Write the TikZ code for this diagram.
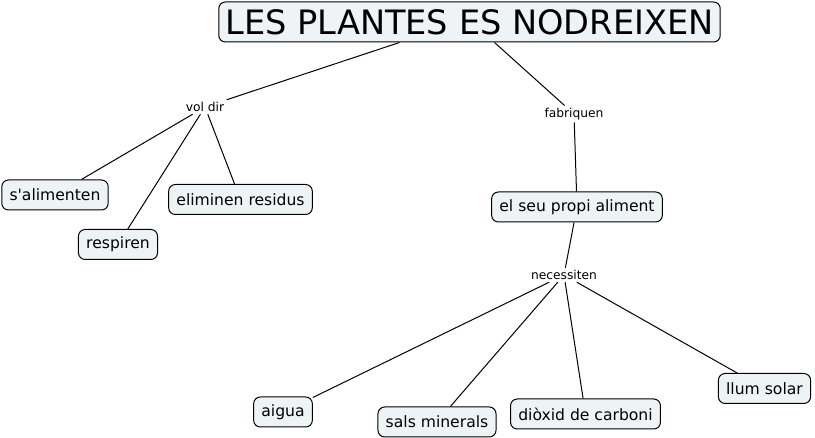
\documentclass[tikz,border=0pt]{standalone}
\usepackage{fontspec}
\setmainfont{DejaVu Sans}[Ligatures=TeXOff]
\usetikzlibrary{positioning}
\definecolor{boxfill}{RGB}{238,244,246}

\begin{document}
\begin{tikzpicture}[x=0.75pt,y=-0.75pt,line width=0.75pt,
  concept/.style={draw=black,rounded corners=5pt,fill=boxfill,font=\fontsize{11.7}{13}\selectfont,inner xsep=5.8pt,minimum height=22.5pt},
  linkword/.style={font=\fontsize{9.2}{10}\selectfont,inner sep=1.5pt,fill=white}]
\useasboundingbox (0,0) rectangle (815,438);
\node[concept,font=\fontsize{25.2}{30}\selectfont,minimum height=30pt,inner xsep=5pt] (title) at (469.5,22) {LES PLANTES ES NODREIXEN};
\node[linkword] (voldir) at (205,107) {vol dir};
\node[linkword] (fabriquen) at (574,114) {fabriquen};
\node[concept] (salimenten) at (55,195) {s'alimenten};
\node[concept] (respiren) at (118,244.5) {respiren};
\node[concept] (eliminen) at (240.5,199.5) {eliminen residus};
\node[concept] (aliment) at (577,207) {el seu propi aliment};
\node[linkword] (necessiten) at (564,275) {necessiten};
\node[concept] (aigua) at (283,412) {aigua};
\node[concept] (sals) at (437,422) {sals minerals};
\node[concept] (dioxid) at (585.5,414) {diòxid de carboni};
\node[concept] (llum) at (764.5,388.5) {llum solar};
\draw (title.south) ++(-70,0) coordinate (t1);
\draw (title.south) ++(25,0) coordinate (t2);
\draw (t1) -- (voldir.north east);
\draw (t2) -- (fabriquen);
\draw (voldir) -- (salimenten);
\draw (voldir) -- (respiren);
\draw (voldir) -- (eliminen);
\draw (fabriquen) -- (aliment);
\draw (aliment) -- (necessiten);
\draw (necessiten) -- (aigua);
\draw (necessiten) -- (sals);
\draw (necessiten) -- (dioxid);
\draw (necessiten) -- (llum);
\end{tikzpicture}
\end{document}
